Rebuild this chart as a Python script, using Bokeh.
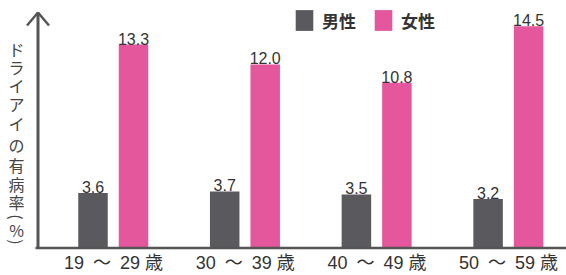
import numpy as np
from bokeh.plotting import figure
from bokeh.models import Range1d, FixedTicker, Legend, LegendItem
from bokeh.core.properties import value
from bokeh.embed import file_html
from bokeh.resources import INLINE

# ---- data ----
categories = ["19 〜 29 歳", "30 〜 39 歳", "40 〜 49 歳", "50 〜 59 歳"]
male = [3.6, 3.7, 3.5, 3.2]
female = [13.3, 12.0, 10.8, 14.5]
series_names = ["男性", "女性"]
y_title = "ドライアイの有病率（%）"

# ---- layout constants (screen px) ----
W, H = 566, 275
K = 131.7                # px per category
PY = 15.3                # px per percent
BASE_SY = 247.5          # screen y of value 0
GROUP0_SX = 113.0        # screen x of first group centre

x_start = -GROUP0_SX / K
x_end = x_start + W / K
y_start = -(H - BASE_SY) / PY
y_end = BASE_SY / PY


def sx(px):
    return x_start + px / K


def sy(py):
    return (BASE_SY - py) / PY


p = figure(width=W, height=H, x_range=Range1d(x_start, x_end),
           y_range=Range1d(y_start, y_end), output_backend="svg",
           toolbar_location=None, min_border=0)
p.yaxis.visible = False
p.xgrid.visible = False
p.ygrid.visible = False
p.outline_line_color = None
p.background_fill_color = "white"

idx = np.arange(len(categories))
male_x = idx - 20.5 / K
female_x = idx + 20.0 / K
bw = 29.5 / K

GRAY = "#5a5a5e"
PINK = "#e4579c"
AX = "#555555"
TXT = "#333333"

rm = p.vbar(x=male_x, top=male, width=bw, bottom=0, fill_color=GRAY, line_color=None)
rf = p.vbar(x=female_x, top=female, width=bw, bottom=0, fill_color=PINK, line_color=None)

# value labels
for xs, vals in ((male_x, male), (female_x, female)):
    p.text(x=xs, y=vals, text=[f"{v:.1f}" for v in vals], text_align="center",
           text_baseline="alphabetic", y_offset=-6, text_font=value("Liberation Sans"),
           text_font_size="16px", text_color=TXT)

# axes lines (baseline + vertical arrow)
ax_x = sx(37.5)
tip_y = sy(12)
p.segment(x0=[sx(35)], y0=[0], x1=[x_end], y1=[0], line_color=AX, line_width=2.5)
p.segment(x0=[ax_x], y0=[0], x1=[ax_x], y1=[tip_y], line_color=AX, line_width=3)
p.segment(x0=[ax_x, ax_x], y0=[tip_y, tip_y],
          x1=[ax_x - 11 / K, ax_x + 11 / K], y1=[tip_y - 13 / PY, tip_y - 13 / PY],
          line_color=AX, line_width=2.5)

# vertical y title, one character per row (brackets turned for vertical writing)
row_sy = [48, 66, 84, 103, 122, 144, 164, 183, 201, 216.5, 229.5, 241.5]
upright = [(c, r) for c, r in zip(y_title, row_sy) if c not in "（）"]
turned = [(c, r) for c, r in zip(y_title, row_sy) if c in "（）"]
p.text(x=[sx(16)] * len(upright), y=[sy(r) for _, r in upright],
       text=[c for c, _ in upright], text_align="center", text_baseline="middle",
       text_font=value("Noto Sans CJK JP"), text_font_size="16px", text_color="#454545")
p.text(x=[sx(16)] * len(turned), y=[sy(r) for _, r in turned],
       text=[{"（": "(", "）": ")"}[c] for c, _ in turned], angle=-np.pi / 2,
       text_align="center", text_baseline="middle",
       text_font=value("Noto Sans CJK JP"), text_font_size="16px", text_color="#454545")

# x axis tick labels, drawn at the zero line
xa = p.xaxis[0]
xa.fixed_location = 0
xa.ticker = FixedTicker(ticks=list(range(len(categories))))
xa.major_label_overrides = {int(i): c.replace(" 〜 ", "\u2002〜\u2002")
                            for i, c in zip(idx, categories)}
xa.axis_line_color = None
xa.major_tick_line_color = None
xa.minor_tick_line_color = None
xa.major_tick_out = 0
xa.major_tick_in = 0
xa.minor_tick_out = 0
xa.minor_tick_in = 0
xa.major_label_standoff = 5
xa.major_label_text_font = "Liberation Sans, Noto Sans CJK JP"
xa.major_label_text_font_size = "18px"
xa.major_label_text_color = TXT

legend = Legend(items=[LegendItem(label=series_names[0], renderers=[rm]),
                       LegendItem(label=series_names[1], renderers=[rf])],
                orientation="horizontal", location=(293, int(H - 7 - 26)),
                glyph_width=22, glyph_height=26, label_height=26, label_standoff=7,
                spacing=16, padding=0, margin=0, border_line_color=None,
                background_fill_alpha=0, label_text_font="Noto Sans CJK JP",
                label_text_font_style="bold", label_text_font_size="17px",
                label_text_color=TXT)
p.add_layout(legend)

open("out.html", "w").write(file_html(p, INLINE))
